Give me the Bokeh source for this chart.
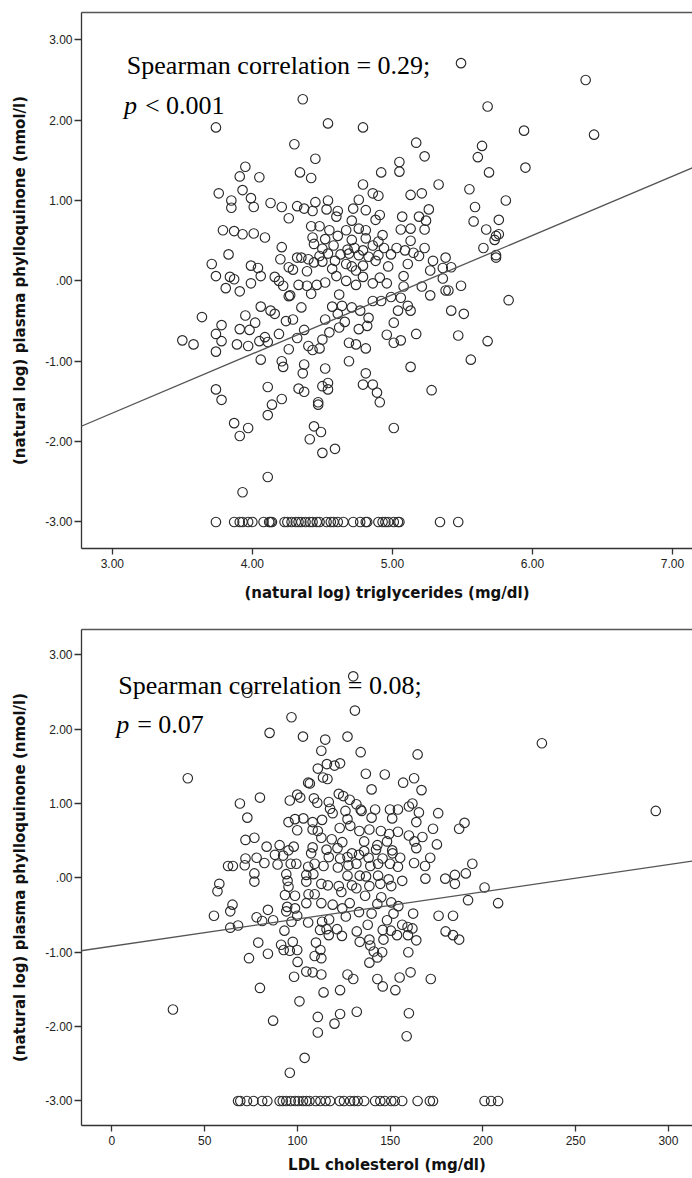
from bokeh.plotting import figure
from bokeh.layouts import column
from bokeh.models import Range1d, FixedTicker, Label, Slope, LinearAxis
from bokeh.embed import file_html
from bokeh.resources import INLINE

# ---------------- data: (natural log) triglycerides vs (natural log) phylloquinone
tg_points = [
    (5.49, 2.71), (6.38, 2.50), (4.36, 2.26), (5.68, 2.17), (3.74, 1.91), (4.54, 1.96), (4.79, 1.91),
    (5.94, 1.87), (6.44, 1.82), (4.30, 1.70), (5.17, 1.72), (5.64, 1.68), (5.23, 1.55), (5.61, 1.54),
    (4.45, 1.52), (5.05, 1.48), (3.95, 1.42), (5.95, 1.41), (3.91, 1.30), (4.05, 1.29), (4.34, 1.35),
    (4.42, 1.28), (4.92, 1.35), (5.05, 1.36), (5.69, 1.35), (4.79, 1.20), (5.33, 1.20), (5.55, 1.14),
    (3.76, 1.09), (3.93, 1.13), (4.86, 1.09), (4.90, 1.06), (5.13, 1.07), (5.21, 1.09), (3.99, 1.03),
    (3.85, 1.00), (5.81, 1.00), (4.13, 0.97), (4.21, 0.92), (3.85, 0.91), (4.01, 0.92), (4.32, 0.93),
    (4.37, 0.90), (4.45, 0.98), (4.54, 1.00), (4.43, 0.87), (4.53, 0.89), (4.61, 0.87), (4.76, 1.01),
    (4.72, 0.90), (4.81, 0.88), (4.91, 0.82), (5.07, 0.80), (5.19, 0.80), (5.26, 0.89), (5.59, 0.92),
    (4.26, 0.78), (4.60, 0.80), (4.71, 0.75), (4.88, 0.76), (5.24, 0.75), (5.58, 0.74), (5.76, 0.76),
    (3.79, 0.63), (3.87, 0.62), (3.93, 0.58), (4.01, 0.59), (4.09, 0.54), (4.42, 0.68), (4.48, 0.68),
    (4.55, 0.63), (4.67, 0.63), (4.76, 0.65), (4.81, 0.63), (4.93, 0.57), (5.06, 0.64), (5.13, 0.65),
    (5.23, 0.64), (5.67, 0.64), (5.74, 0.56), (5.76, 0.58), (4.43, 0.54), (4.52, 0.52), (4.61, 0.56),
    (4.71, 0.51), (4.81, 0.53), (4.90, 0.49), (5.13, 0.50), (5.73, 0.51), (4.21, 0.42), (4.44, 0.46),
    (4.50, 0.40), (4.58, 0.44), (4.68, 0.39), (4.73, 0.41), (4.79, 0.38), (4.86, 0.44), (4.94, 0.41),
    (5.03, 0.41), (5.09, 0.38), (5.15, 0.35), (5.23, 0.41), (5.65, 0.41), (3.83, 0.33), (4.35, 0.29),
    (4.40, 0.27), (4.48, 0.31), (4.54, 0.34), (4.63, 0.33), (4.69, 0.34), (4.76, 0.32), (4.83, 0.30),
    (4.90, 0.32), (4.99, 0.33), (5.19, 0.31), (5.74, 0.32), (5.74, 0.29), (3.71, 0.21), (4.20, 0.27),
    (4.26, 0.17), (4.32, 0.29), (4.44, 0.23), (4.50, 0.24), (4.59, 0.25), (4.67, 0.21), (4.71, 0.18),
    (4.79, 0.19), (4.88, 0.25), (4.97, 0.18), (5.11, 0.21), (5.29, 0.25), (5.38, 0.29), (3.99, 0.19),
    (4.04, 0.16), (3.74, 0.06), (3.84, 0.05), (3.87, 0.02), (4.06, 0.06), (4.16, 0.05), (4.29, 0.14),
    (4.39, 0.12), (4.57, 0.15), (4.60, 0.06), (4.74, 0.13), (4.79, 0.05), (4.91, 0.04), (5.08, 0.06),
    (5.27, 0.13), (5.36, 0.16), (5.42, 0.17), (5.36, 0.03), (3.99, -0.03), (3.81, -0.09), (3.91, -0.13),
    (4.19, 0.00), (4.22, -0.06), (4.33, -0.05), (4.39, -0.06), (4.46, -0.05), (4.52, -0.02), (4.67, 0.00),
    (4.74, -0.05), (4.86, -0.03), (4.96, -0.03), (5.08, -0.07), (5.21, -0.07), (5.40, -0.12), (5.49, -0.06),
    (5.83, -0.24), (4.27, -0.18), (4.62, -0.17), (4.99, -0.20), (5.27, -0.18),
    (3.64, -0.45), (3.50, -0.74), (3.58, -0.79), (3.74, -0.66), (3.74, -0.88), (3.78, -0.55), (3.78, -0.75),
    (3.89, -0.79), (3.91, -0.60), (3.95, -0.43), (3.97, -0.81), (3.98, -0.61), (4.02, -0.52), (4.05, -0.75),
    (4.06, -0.32), (4.06, -0.98), (4.11, -0.76), (4.09, -0.70), (4.13, -0.37), (4.16, -0.41), (4.19, -0.66),
    (4.21, -1.00), (4.22, -1.07), (4.24, -0.50), (4.26, -0.85), (4.29, -0.48), (4.32, -0.71), (4.35, -0.33),
    (4.37, -0.61), (4.37, -1.04), (4.36, -1.15), (4.40, -0.81), (4.43, -0.86), (4.48, -0.84), (4.52, -0.48),
    (4.50, -0.73), (4.52, -1.09), (4.55, -0.64), (4.57, -0.32), (4.61, -0.41), (4.62, -0.58), (4.64, -0.31),
    (4.66, -0.51), (4.69, -0.77), (4.69, -1.00), (4.71, -0.33), (4.74, -0.79), (4.76, -0.60), (4.77, -0.37),
    (4.81, -0.84), (4.82, -0.56), (4.83, -0.46), (4.81, -1.15), (4.86, -0.25), (4.92, -0.25), (4.96, -0.67),
    (5.01, -0.52), (5.01, -0.77), (5.04, -0.37), (5.06, -0.74), (5.11, -0.31), (5.13, -0.37), (5.17, -0.66),
    (5.13, -1.07), (5.42, -0.37), (5.47, -0.68), (5.51, -0.41), (5.56, -0.98), (5.68, -0.75), (5.38, -0.12),
    (5.06, -0.21), (4.26, -0.19), (4.42, -0.16),
    (3.74, -1.35), (3.78, -1.48), (4.11, -1.32), (4.14, -1.54), (4.21, -1.47), (4.11, -1.67), (4.33, -1.34),
    (4.37, -1.38), (4.50, -1.31), (4.54, -1.27), (4.54, -1.35), (4.47, -1.54), (4.47, -1.51), (4.79, -1.29),
    (4.86, -1.29), (4.89, -1.39), (4.91, -1.51), (5.28, -1.36), (3.87, -1.77), (3.97, -1.83), (3.91, -1.93),
    (4.44, -1.81), (4.49, -1.88), (4.41, -1.97), (4.50, -2.14), (4.59, -2.09), (5.01, -1.83), (4.11, -2.44),
    (3.93, -2.63),
    (3.74, -3.0), (3.87, -3.0), (3.91, -3.0), (3.93, -3.0), (3.97, -3.0), (4.00, -3.0), (4.08, -3.0),
    (4.12, -3.0), (4.13, -3.0), (4.14, -3.0), (4.23, -3.0), (4.25, -3.0), (4.28, -3.0), (4.31, -3.0),
    (4.33, -3.0), (4.35, -3.0), (4.38, -3.0), (4.41, -3.0), (4.43, -3.0), (4.46, -3.0), (4.48, -3.0),
    (4.53, -3.0), (4.56, -3.0), (4.58, -3.0), (4.61, -3.0), (4.65, -3.0), (4.72, -3.0), (4.77, -3.0),
    (4.81, -3.0), (4.82, -3.0), (4.90, -3.0), (4.93, -3.0), (4.95, -3.0), (4.97, -3.0), (5.01, -3.0),
    (5.04, -3.0), (5.05, -3.0), (5.34, -3.0), (5.47, -3.0),
]
tg_fit_intercept = -3.856
tg_fit_slope = 0.737

# ---------------- data: LDL cholesterol vs (natural log) phylloquinone
ldl_points = [
    (130.1, 2.71), (73.0, 2.49), (131.0, 2.25), (96.8, 2.16), (85.0, 1.95), (103.0, 1.90), (115.0, 1.86),
    (127.0, 1.90), (231.8, 1.81), (112.9, 1.71), (134.1, 1.69), (164.8, 1.66), (111.0, 1.47), (115.9, 1.53),
    (120.0, 1.51), (123.0, 1.54), (113.8, 1.35), (116.2, 1.33), (136.9, 1.40), (147.1, 1.39), (162.9, 1.34),
    (157.0, 1.28), (40.9, 1.34), (105.8, 1.28), (106.7, 1.27), (140.0, 1.19), (166.9, 1.18), (122.3, 1.13),
    (124.7, 1.10), (99.9, 1.12), (95.9, 1.04), (101.5, 1.08), (79.8, 1.08), (69.0, 1.00), (108.9, 1.07),
    (110.7, 1.01), (116.9, 1.02), (128.2, 1.05), (131.8, 0.99), (117.6, 0.93), (119.0, 0.87), (125.9, 0.90),
    (134.1, 0.92), (134.6, 0.90), (141.9, 0.92), (149.9, 0.92), (154.2, 0.92), (160.1, 0.96), (162.0, 1.00),
    (165.5, 0.88), (175.9, 0.87), (293.2, 0.90), (73.0, 0.81), (95.2, 0.75), (98.7, 0.79), (103.2, 0.80),
    (108.2, 0.75), (113.3, 0.78), (127.0, 0.79), (140.0, 0.81), (151.1, 0.80), (164.1, 0.75), (190.1, 0.74),
    (187.2, 0.66), (173.1, 0.66), (99.9, 0.64), (108.2, 0.65), (111.0, 0.63), (122.8, 0.67), (128.5, 0.70),
    (133.4, 0.63), (138.8, 0.65), (145.0, 0.63), (149.5, 0.59), (154.2, 0.62), (160.1, 0.57), (167.4, 0.55),
    (72.0, 0.51), (76.8, 0.54), (112.9, 0.54), (118.5, 0.52), (124.2, 0.48), (136.0, 0.49), (143.1, 0.44),
    (148.3, 0.49), (163.1, 0.49), (175.2, 0.45), (83.4, 0.42), (90.4, 0.44), (98.0, 0.42), (108.2, 0.41),
    (115.7, 0.38), (121.6, 0.40), (129.4, 0.33), (136.0, 0.36), (142.4, 0.38), (151.1, 0.37), (164.1, 0.40),
    (87.9, 0.31), (92.3, 0.30), (95.2, 0.37), (107.4, 0.33), (116.9, 0.28), (123.0, 0.26), (127.0, 0.28),
    (133.2, 0.31), (138.4, 0.27), (145.9, 0.26), (151.3, 0.33), (155.4, 0.27), (171.6, 0.27), (72.0, 0.26),
    (78.0, 0.27), (62.6, 0.16), (65.2, 0.16), (71.6, 0.17), (82.2, 0.20), (89.3, 0.18), (96.4, 0.19),
    (99.4, 0.19), (105.8, 0.15), (109.3, 0.19), (114.1, 0.16), (121.8, 0.14), (127.5, 0.17), (131.8, 0.19),
    (139.3, 0.16), (143.5, 0.19), (149.9, 0.19), (154.2, 0.15), (162.9, 0.20), (168.8, 0.16), (194.3, 0.19),
    (76.8, 0.06), (94.0, 0.05), (104.8, 0.04), (108.6, 0.05), (127.0, 0.03), (133.6, 0.03), (137.0, 0.02),
    (143.5, 0.03), (149.2, -0.02), (156.5, -0.04), (169.0, -0.01), (179.7, -0.01), (184.9, 0.04), (190.8, 0.06),
    (184.9, -0.08), (200.9, -0.13), (57.9, -0.08), (76.8, -0.05), (94.7, -0.04), (104.8, -0.05), (112.9, -0.08),
    (116.4, -0.10), (122.3, -0.11), (129.4, -0.10), (138.8, -0.11), (144.7, -0.08), (150.6, -0.11),
    (56.9, -0.18), (55.0, -0.51), (65.0, -0.36), (63.8, -0.45), (63.8, -0.67), (68.0, -0.64), (78.0, -0.53),
    (81.0, -0.58), (84.1, -0.43), (86.9, -0.57), (78.9, -0.87), (84.1, -1.02), (73.9, -1.08), (93.3, -0.23),
    (95.2, -0.12), (98.7, -0.24), (94.5, -0.39), (98.7, -0.41), (94.0, -0.45), (99.9, -0.51), (96.8, -0.59),
    (93.0, -0.71), (91.2, -0.90), (92.6, -0.97), (95.9, -0.98), (97.5, -0.86), (99.9, -0.97), (100.1, -1.13),
    (98.2, -1.33), (104.8, -1.26), (108.2, -1.27), (112.9, -1.30), (101.1, -1.66), (79.8, -1.48), (106.0, -0.22),
    (109.3, -0.22), (104.8, -0.34), (112.9, -0.34), (105.8, -0.60), (110.0, -0.87), (112.2, -0.70), (113.3, -0.59),
    (115.7, -0.69), (117.1, -0.56), (109.3, -1.05), (112.4, -0.97), (112.9, -1.08), (116.9, -0.77), (114.1, -1.54),
    (123.0, -1.51), (119.0, -0.36), (123.7, -0.19), (128.2, -0.34), (131.8, -0.14), (124.2, -0.41), (126.1, -0.52),
    (121.4, -0.69), (124.0, -0.78), (127.0, -1.30), (130.1, -1.36), (133.2, -0.46), (136.5, -0.24), (140.0, -0.48),
    (137.9, -0.63), (132.0, -0.72), (133.6, -0.86), (138.8, -0.83), (139.3, -0.91), (141.2, -0.99), (138.8, -1.14),
    (143.1, -1.07), (145.7, -1.00), (146.0, -0.70), (146.4, -0.83), (143.1, -0.35), (145.2, -0.26), (150.6, -0.33),
    (151.8, -0.48), (148.3, -0.57), (150.4, -0.71), (153.7, -0.77), (156.5, -0.63), (159.4, -0.66), (162.0, -0.68),
    (162.4, -0.48), (159.6, -0.77), (164.1, -0.84), (159.8, -1.00), (161.0, -1.27), (152.8, -1.51), (155.1, -1.34),
    (143.1, -1.36), (146.0, -1.46), (171.9, -1.36), (176.1, -0.51), (183.9, -0.51), (179.9, -0.72), (183.9, -0.77),
    (187.2, -0.83), (192.0, -0.30), (208.2, -0.34), (154.4, -0.38), (32.9, -1.77), (86.9, -1.92), (111.0, -1.87),
    (123.0, -1.83), (132.0, -1.80), (120.0, -1.96), (111.0, -2.08), (160.1, -1.82), (158.9, -2.13), (103.9, -2.42),
    (95.9, -2.62),
    (68.0, -3.0), (69.2, -3.0), (72.8, -3.0), (76.3, -3.0), (81.0, -3.0), (83.8, -3.0), (90.4, -3.0),
    (92.1, -3.0), (94.0, -3.0), (96.4, -3.0), (98.7, -3.0), (100.6, -3.0), (103.0, -3.0), (104.8, -3.0),
    (106.5, -3.0), (109.8, -3.0), (112.4, -3.0), (115.2, -3.0), (117.6, -3.0), (122.8, -3.0), (125.1, -3.0),
    (128.4, -3.0), (130.6, -3.0), (132.5, -3.0), (136.0, -3.0), (141.9, -3.0), (144.7, -3.0), (147.1, -3.0),
    (150.6, -3.0), (152.5, -3.0), (156.5, -3.0), (164.8, -3.0), (171.4, -3.0), (173.1, -3.0), (200.9, -3.0),
    (204.4, -3.0), (208.2, -3.0),
]
ldl_fit_intercept = -0.919
ldl_fit_slope = 0.00366

# ---------------- axes / ticks / texts
y_ticks = [-3.0, -2.0, -1.0, 0.0, 1.0, 2.0, 3.0]
y_tick_labels = ["-3.00", "-2.00", "-1.00", ".00", "1.00", "2.00", "3.00"]
tg_ticks = [3.0, 4.0, 5.0, 6.0, 7.0]
tg_tick_labels = ["3.00", "4.00", "5.00", "6.00", "7.00"]
ldl_ticks = [0.0, 50.0, 100.0, 150.0, 200.0, 250.0, 300.0]
ldl_tick_labels = ["0", "50", "100", "150", "200", "250", "300"]

y_label = "(natural log) plasma phylloquinone (nmol/l)"
tg_x_label = "(natural log) triglycerides (mg/dl)"
ldl_x_label = "LDL cholesterol (mg/dl)"
tg_text = "Spearman correlation = 0.29;"
tg_p_rest = "< 0.001"
ldl_text = "Spearman correlation = 0.08;"
ldl_p_rest = "= 0.07"

AX = "#333333"
SERIF = "Liberation Serif"


def make_fig(points, fit_b, fit_m, x_rng, x_ticks, x_tick_labels, x_label,
             height, mb_left, mb_top, mb_bottom, xlab_standoff,
             text, text_xy, p_rest, p_xy):
    p = figure(width=692, height=height, output_backend="svg", toolbar_location=None,
               x_range=Range1d(*x_rng), y_range=Range1d(-3.33, 3.34),
               min_border_left=mb_left, min_border_right=0,
               min_border_top=mb_top, min_border_bottom=mb_bottom)
    p.background_fill_color = "white"
    p.border_fill_color = "white"
    p.grid.visible = False
    p.outline_line_color = None

    bottom_ax = p.below[0]
    left_ax = p.left[0]

    xs = [pt[0] for pt in points]
    ys = [pt[1] for pt in points]
    p.add_layout(Slope(gradient=fit_m, y_intercept=fit_b, line_color="#555555", line_width=1.3))
    p.scatter(xs, ys, marker="circle", size=9.5, fill_color=None,
              line_color="#2a2a2a", line_width=1.15)

    for ax, ticks, labels in ((bottom_ax, x_ticks, x_tick_labels),
                              (left_ax, y_ticks, y_tick_labels)):
        ax.ticker = FixedTicker(ticks=ticks)
        ax.major_label_overrides = {float(t): l for t, l in zip(ticks, labels)}
        ax.minor_tick_line_color = None
        ax.major_tick_in = 0
        ax.major_tick_out = 6
        ax.axis_line_color = AX
        ax.axis_line_width = 1.3
        ax.major_tick_line_color = AX
        ax.major_tick_line_width = 1.3
        ax.major_label_text_font = "Liberation Sans"
        ax.major_label_text_font_size = "12px"
        ax.major_label_text_color = "#222222"
        ax.axis_label_text_font = "DejaVu Sans"
        ax.axis_label_text_font_size = "15px"
        ax.axis_label_text_font_style = "bold"
        ax.axis_label_text_color = "#111111"
    left_ax.major_tick_out = 7
    bottom_ax.major_label_standoff = 4
    left_ax.major_label_standoff = 2
    bottom_ax.axis_label = x_label
    left_ax.axis_label = y_label
    bottom_ax.axis_label_standoff = xlab_standoff
    left_ax.axis_label_standoff = 13

    # top frame edge only (the right edge lies outside the picture)
    top = LinearAxis(ticker=FixedTicker(ticks=[]), axis_line_color="#555555", axis_line_width=1.3,
                     major_tick_line_color=None, minor_tick_line_color=None,
                     major_label_text_font_size="0px")
    p.add_layout(top, "above")

    p.add_layout(Label(x=text_xy[0], y=text_xy[1], text=text, text_font=SERIF,
                       text_font_size="26px", text_color="black", text_baseline="alphabetic"))
    p.add_layout(Label(x=p_xy[0], y=p_xy[1], text="p", text_font=SERIF,
                       text_font_style="italic",
                       text_font_size="26px", text_color="black", text_baseline="alphabetic"))
    p.add_layout(Label(x=p_xy[0], y=p_xy[1], x_offset=21, text=p_rest, text_font=SERIF,
                       text_font_size="26px", text_color="black", text_baseline="alphabetic"))
    return p


p1 = make_fig(tg_points, tg_fit_intercept, tg_fit_slope, (2.78, 7.143), tg_ticks, tg_tick_labels,
              tg_x_label, 606, 81, 12, 58, 13,
              tg_text, (3.104, 2.677), tg_p_rest, (3.083, 2.18))
p2 = make_fig(ldl_points, ldl_fit_intercept, ldl_fit_slope, (-16.4, 313.0), ldl_ticks, ldl_tick_labels,
              ldl_x_label, 570, 76, 23, 50, 8,
              ldl_text, (3.4, 2.588), ldl_p_rest, (2.3, 2.064))

layout = column(p1, p2, spacing=0)
open("out.html", "w").write(file_html(layout, INLINE))
